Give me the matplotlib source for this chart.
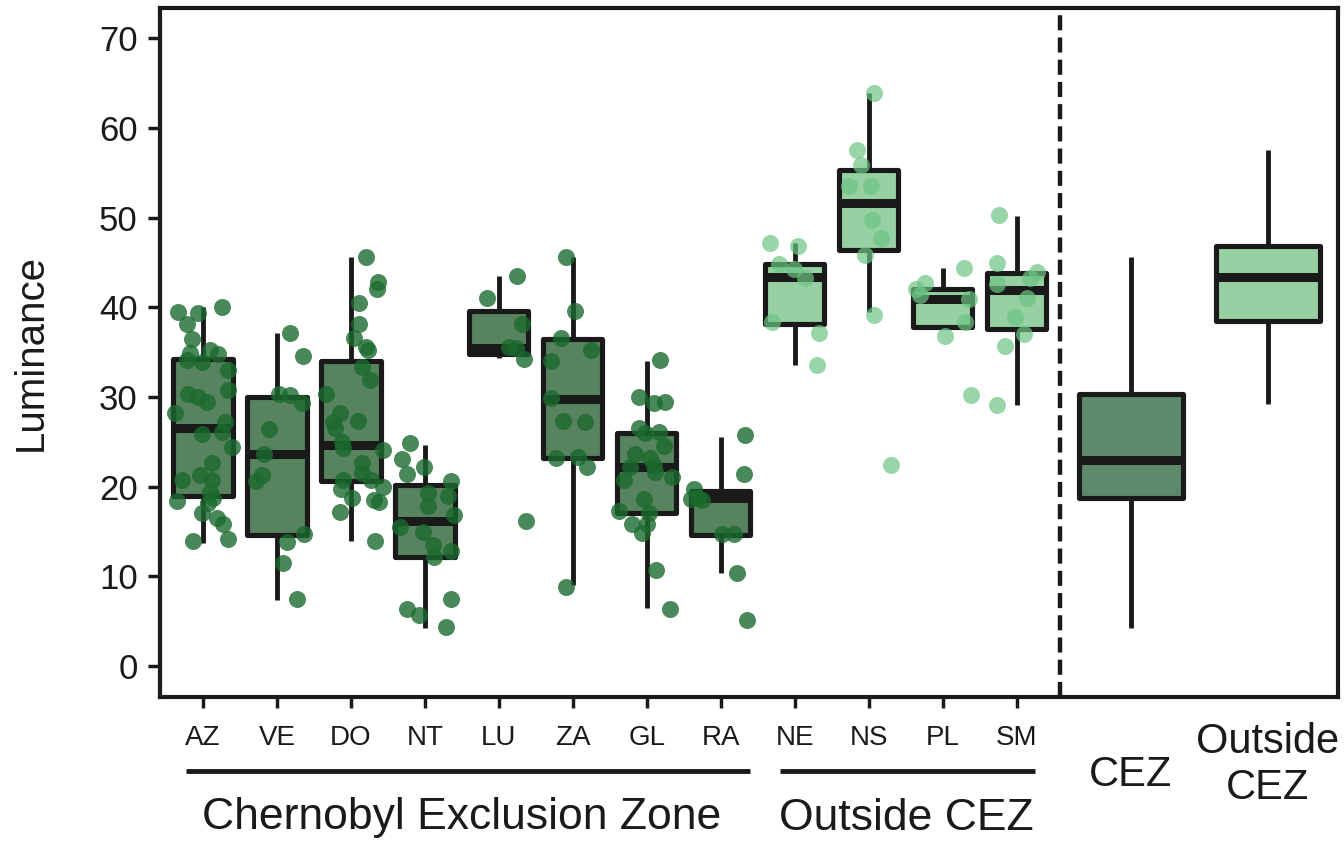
import numpy as np
import matplotlib
matplotlib.use("Agg")
import matplotlib.pyplot as plt
from matplotlib.transforms import blended_transform_factory

plt.rcParams['font.family'] = ['Liberation Sans', 'DejaVu Sans']

# sampling sites: first 8 inside the exclusion zone, last 4 outside
sites = ['AZ', 'VE', 'DO', 'NT', 'LU', 'ZA', 'GL', 'RA', 'NE', 'NS', 'PL', 'SM']
n_cez = 8

# per-site box summaries
whislo = [13.7, 7.4, 14.0, 4.2, 34.4, 9.0, 6.5, 10.4, 33.6, 39.5, 37.6, 29.1]
q1 = [19.0, 14.6, 20.6, 12.2, 34.8, 23.2, 17.1, 14.6, 38.2, 46.4, 37.8, 37.6]
med = [26.6, 23.7, 24.7, 16.2, 35.5, 29.8, 22.2, 18.8, 43.4, 51.6, 40.9, 41.9]
q3 = [34.3, 30.0, 34.0, 20.2, 39.6, 36.5, 26.0, 19.5, 44.9, 55.3, 42.1, 43.8]
whishi = [40.0, 37.2, 45.6, 24.7, 43.5, 45.6, 34.0, 25.6, 47.2, 63.9, 44.4, 50.2]

# pooled boxes: CEZ vs outside CEZ
zones = ['CEZ', 'Outside\nCEZ']
zone_whislo = [4.2, 29.2]
zone_q1 = [18.7, 38.5]
zone_med = [23.0, 43.4]
zone_q3 = [30.3, 46.8]
zone_whishi = [45.6, 57.6]

# individual luminance measurements and their horizontal jitter
lum_AZ = [39.5, 39.4, 40.0, 38.2, 36.5, 35.3, 34.8, 34.9, 34.1, 33.9, 33.0, 30.8, 30.4,
          30.0, 29.4, 28.2, 27.2, 26.1, 25.9, 24.4, 22.6, 20.7, 21.3, 20.7, 19.4, 18.8,
          18.4, 18.2, 17.1, 16.5, 15.9, 13.9, 14.2]
jit_AZ = [-0.34, -0.07, 0.26, -0.22, -0.15, 0.09, 0.2, -0.18, -0.22, -0.01, 0.34, 0.34, -0.2,
          -0.07, 0.05, -0.38, 0.3, 0.26, -0.01, 0.39, 0.12, -0.28, -0.04, 0.12, 0.09, 0.14,
          -0.35, 0.07, -0.01, 0.19, 0.27, -0.14, 0.34]
lum_VE = [37.1, 34.6, 30.3, 30.2, 29.3, 26.4, 23.6, 21.3, 20.6, 14.7, 13.8, 11.5, 7.5]
jit_VE = [0.18, 0.35, 0.03, 0.18, 0.34, -0.11, -0.18, -0.2, -0.28, 0.36, 0.14, 0.08, 0.27]
lum_DO = [45.6, 42.8, 42.1, 40.5, 38.2, 36.6, 35.6, 35.2, 33.4, 31.9, 30.4, 28.2, 27.2,
          26.5, 27.3, 25.0, 24.3, 24.1, 22.7, 21.5, 20.8, 20.8, 19.7, 18.8, 20.0, 18.5,
          18.3, 17.2, 14.0]
jit_DO = [0.2, 0.36, 0.35, 0.11, 0.11, 0.04, 0.2, 0.23, 0.15, 0.26, -0.34, -0.15, -0.24,
          -0.22, 0.09, -0.12, -0.11, 0.43, 0.15, 0.15, -0.11, 0.27, -0.14, 0.01, 0.43, 0.31,
          0.38, -0.15, 0.32]
lum_NT = [24.9, 23.1, 22.2, 21.4, 20.6, 19.3, 19.0, 17.9, 16.9, 15.5, 15.0, 13.5, 12.8,
          12.2, 7.5, 6.4, 5.7, 4.4]
jit_NT = [-0.2, -0.31, -0.01, -0.24, 0.35, 0.04, 0.31, 0.04, 0.39, -0.34, -0.03, 0.11, 0.35,
          0.12, 0.35, -0.24, -0.08, 0.28]
lum_LU = [43.5, 41.0, 38.2, 35.6, 35.5, 34.3, 16.2]
jit_LU = [0.24, -0.16, 0.31, 0.14, 0.23, 0.34, 0.36]
lum_ZA = [45.6, 39.6, 36.6, 35.2, 34.0, 29.9, 27.3, 27.2, 23.2, 23.3, 22.2, 8.8]
jit_ZA = [-0.09, 0.03, -0.16, 0.24, -0.3, -0.3, -0.14, 0.16, -0.23, 0.07, 0.19, -0.09]
lum_GL = [34.1, 30.0, 29.3, 29.4, 26.5, 26.0, 26.1, 24.5, 23.7, 23.2, 22.2, 22.3, 21.6,
          20.7, 21.1, 18.6, 17.3, 17.1, 15.9, 15.8, 14.8, 10.7, 6.4]
jit_GL = [0.18, -0.11, 0.09, 0.24, -0.11, -0.03, 0.16, 0.23, -0.16, 0.04, -0.23, 0.09, 0.11,
          -0.31, 0.34, -0.04, -0.38, 0.03, -0.2, 0.0, -0.07, 0.12, 0.31]
lum_RA = [25.8, 21.4, 19.8, 18.6, 18.8, 18.5, 14.7, 14.7, 10.4, 5.1]
jit_RA = [0.32, 0.31, -0.36, -0.41, -0.31, -0.26, 0.01, 0.18, 0.22, 0.35]
lum_NE = [47.2, 46.9, 44.9, 44.3, 43.3, 38.4, 37.1, 33.6]
jit_NE = [-0.34, 0.04, -0.22, -0.01, 0.14, -0.31, 0.32, 0.3]
lum_NS = [63.9, 57.6, 55.9, 53.6, 53.6, 49.7, 47.8, 45.9, 39.2, 22.4]
jit_NS = [0.07, -0.16, -0.11, -0.27, 0.03, 0.04, 0.16, -0.05, 0.07, 0.3]
lum_PL = [44.4, 42.7, 42.1, 41.4, 40.9, 38.4, 36.8, 30.2]
jit_PL = [0.28, -0.24, -0.36, -0.31, 0.35, 0.3, 0.03, 0.38]
lum_SM = [50.3, 45.0, 43.9, 43.3, 42.6, 41.1, 38.9, 37.0, 35.7, 29.1]
jit_SM = [-0.24, -0.27, 0.27, 0.18, -0.27, 0.14, -0.03, 0.09, -0.16, -0.27]

lums = [lum_AZ, lum_VE, lum_DO, lum_NT, lum_LU, lum_ZA, lum_GL, lum_RA,
        lum_NE, lum_NS, lum_PL, lum_SM]
jits = [jit_AZ, jit_VE, jit_DO, jit_NT, jit_LU, jit_ZA, jit_GL, jit_RA,
        jit_NE, jit_NS, jit_PL, jit_SM]

ink = '#1a1a1a'
fill_cez, fill_out = '#58835f', '#97d0a2'
pt_cez, pt_out = '#1b6a2e', '#6cc483'

fig = plt.figure(figsize=(13.44, 8.42), dpi=100)
ax = fig.add_axes([160 / 1344, 1 - 697 / 842, 1178 / 1344, 689 / 842])

pos = np.arange(1, len(sites) + 1)
zone_pos = [13.54, 15.39]


def make_stats(lo, a, m, b, hi):
    return [dict(whislo=w0, q1=x1, med=mm, q3=x3, whishi=w1, fliers=[])
            for w0, x1, mm, x3, w1 in zip(lo, a, m, b, hi)]


box_kw = dict(patch_artist=True, showcaps=False, showfliers=False,
              boxprops=dict(linewidth=3.7, edgecolor=ink, joinstyle='round'),
              medianprops=dict(linewidth=6.5, color=ink, solid_capstyle='butt'),
              whiskerprops=dict(linewidth=3.5, color=ink, solid_capstyle='butt'))

bp = ax.bxp(make_stats(whislo, q1, med, q3, whishi), positions=pos, widths=0.8, **box_kw)
for i, patch in enumerate(bp['boxes']):
    patch.set_facecolor(fill_cez if i < n_cez else fill_out)

bz = ax.bxp(make_stats(zone_whislo, zone_q1, zone_med, zone_q3, zone_whishi),
            positions=zone_pos, widths=1.4, **box_kw)
bz['boxes'][0].set_facecolor('#5e8a6b')
bz['boxes'][1].set_facecolor(fill_out)

# jittered raw points on top of the boxes
for i, (vals, jit) in enumerate(zip(lums, jits)):
    inside = i < n_cez
    ax.scatter(pos[i] + np.array(jit), vals, s=150, linewidths=0,
               color=pt_cez if inside else pt_out, alpha=0.8 if inside else 0.7, zorder=4)

ax.axvline(12.58, color=ink, lw=3.2, ls=(0, (3.4, 1.6)), zorder=5)

ax.set_xlim(0.42, 16.34)
ax.set_ylim(-3.45, 73.4)
ax.set_yticks(range(0, 71, 10))
ax.set_xticks(pos)
ax.set_xticklabels(sites)
ax.tick_params(axis='y', labelsize=25, length=9, width=2.5, pad=7, color=ink, labelcolor=ink)
ax.tick_params(axis='x', labelsize=20, length=8, width=2.5, pad=12, color=ink, labelcolor=ink)
for sp in ax.spines.values():
    sp.set_linewidth(3)
    sp.set_color(ink)

ax.set_ylabel('Luminance', fontsize=29, color=ink, va='center')
ax.yaxis.set_label_coords(-0.1095, 0.5)

# group brackets and labels under the site axis
tr = blended_transform_factory(ax.transData, fig.transFigure)
line_y = 1 - 771 / 842
text_y = 1 - 818 / 842
ax.plot([pos[0] - 0.23, pos[n_cez - 1] + 0.4], [line_y, line_y], transform=tr,
        color=ink, lw=3.5, clip_on=False, solid_capstyle='butt')
ax.plot([pos[n_cez] - 0.2, pos[-1] + 0.25], [line_y, line_y], transform=tr,
        color=ink, lw=3.5, clip_on=False, solid_capstyle='butt')
ax.text(pos[:n_cez].mean(), text_y, 'Chernobyl Exclusion Zone', transform=tr,
        ha='center', va='center', fontsize=32, color=ink)
ax.text(pos[n_cez:].mean(), text_y, 'Outside CEZ', transform=tr,
        ha='center', va='center', fontsize=32, color=ink)

ax.text(zone_pos[0], 1 - 775 / 842, zones[0], transform=tr,
        ha='center', va='center', fontsize=30, color=ink)
ax.text(zone_pos[1], 1 - 765 / 842, zones[1], transform=tr,
        ha='center', va='center', fontsize=30, color=ink, linespacing=1.2)

fig.savefig('out.png', dpi=100)
